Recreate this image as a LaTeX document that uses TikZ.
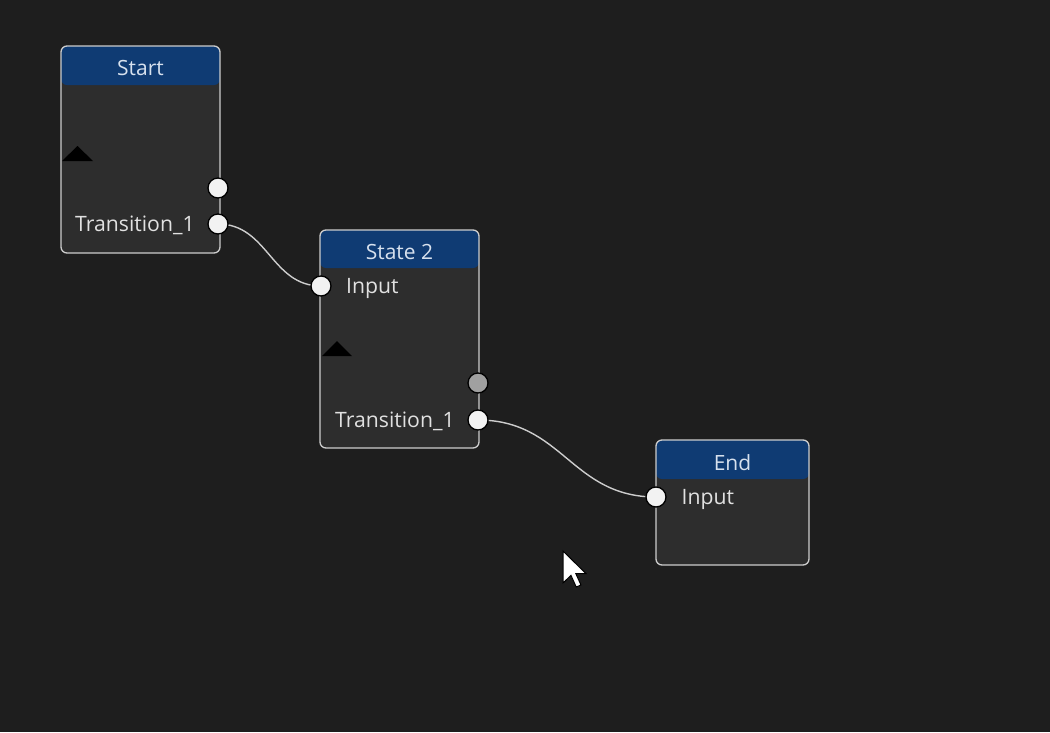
\documentclass[tikz,border=0pt]{standalone}
\usepackage{fontspec}
\setmainfont{Open Sans}
\usetikzlibrary{calc}
\definecolor{bgc}{RGB}{30,30,30}
\definecolor{bodyc}{RGB}{45,45,45}
\definecolor{hdrc}{RGB}{15,59,115}
\definecolor{edgec}{RGB}{205,205,205}
\definecolor{txtc}{RGB}{225,225,225}
\definecolor{ttlc}{RGB}{215,225,238}
\definecolor{portc}{RGB}{242,242,242}
\definecolor{portg}{RGB}{160,160,160}
\begin{document}
\begin{tikzpicture}[x=1pt,y=-1pt,
  statebox/.style={draw=edgec, line width=1.3pt, fill=bodyc, rounded corners=6pt, inner sep=0pt,
     path picture={\fill[hdrc] (path picture bounding box.north west) rectangle ([yshift=-#1]path picture bounding box.north east);}},
  ttl/.style={text=ttlc, font=\fontsize{21}{25}\selectfont, inner sep=0pt},
  lbl/.style={text=txtc, font=\fontsize{21.2}{25}\selectfont, inner sep=0pt},
  port/.style={circle, draw=black, line width=1.3pt, fill=portc, minimum size=20pt, inner sep=0pt},
  gport/.style={port, fill=portg},
  wire/.style={draw=edgec, line width=1.4pt},
  tri/.style={fill=black}
]
\fill[bgc] (0,0) rectangle (1050,732);
% boxes
\node[statebox=39pt, minimum width=159pt, minimum height=207pt] (start) at (140.5,149.5) {};
\node[statebox=38pt, minimum width=159pt, minimum height=218pt] (s2) at (399.5,339) {};
\node[statebox=39pt, minimum width=153pt, minimum height=125pt] (end) at (732.5,502.5) {};
% titles
\node[ttl, anchor=base] (startT) at (140.5,75) {Start};
\node[ttl, anchor=base] (s2T) at (399.5,259) {State 2};
\node[ttl, anchor=base] (endT) at (732.5,470.5) {End};
% labels
\node[lbl, anchor=base west] (startL) at (75,231) {Transition\_1};
\node[lbl, anchor=base west] (s2InL) at (346,293) {Input};
\node[lbl, anchor=base west] (s2L) at (335,427.5) {Transition\_1};
\node[lbl, anchor=base west] (endInL) at (681.5,504) {Input};
% triangles
\fill[tri] (62,161) -- (93,161) -- (77.5,146) -- cycle;
\fill[tri] (322,356) -- (352,356) -- (337,341) -- cycle;
% port coordinates
\coordinate (p1) at (218,188);
\coordinate (p2) at (218,224);
\coordinate (p3) at (321,286);
\coordinate (p4) at (478,383);
\coordinate (p5) at (478,420);
\coordinate (p6) at (656,497);
% wires
\draw[wire] (p2) .. controls ($(p2)+(50,0)$) and ($(p3)-(50,0)$) .. (p3);
\draw[wire] (p5) .. controls ($(p5)+(85,0)$) and ($(p6)-(85,0)$) .. (p6);
% ports
\node[port] (startP1) at (p1) {};
\node[port] (startP2) at (p2) {};
\node[port] (s2InP) at (p3) {};
\node[gport] (s2P1) at (p4) {};
\node[port] (s2P2) at (p5) {};
\node[port] (endInP) at (p6) {};
% cursor
\begin{scope}[shift={(563,551)}, x=2pt, y=-2pt]
\filldraw[fill=white, draw=black, line width=1pt, line join=miter] (0,0) -- (0,16) -- (4,12.2) -- (6.6,18) -- (9,17) -- (6.4,11.3) -- (11.5,11.3) -- cycle;
\end{scope}
\end{tikzpicture}
\end{document}
